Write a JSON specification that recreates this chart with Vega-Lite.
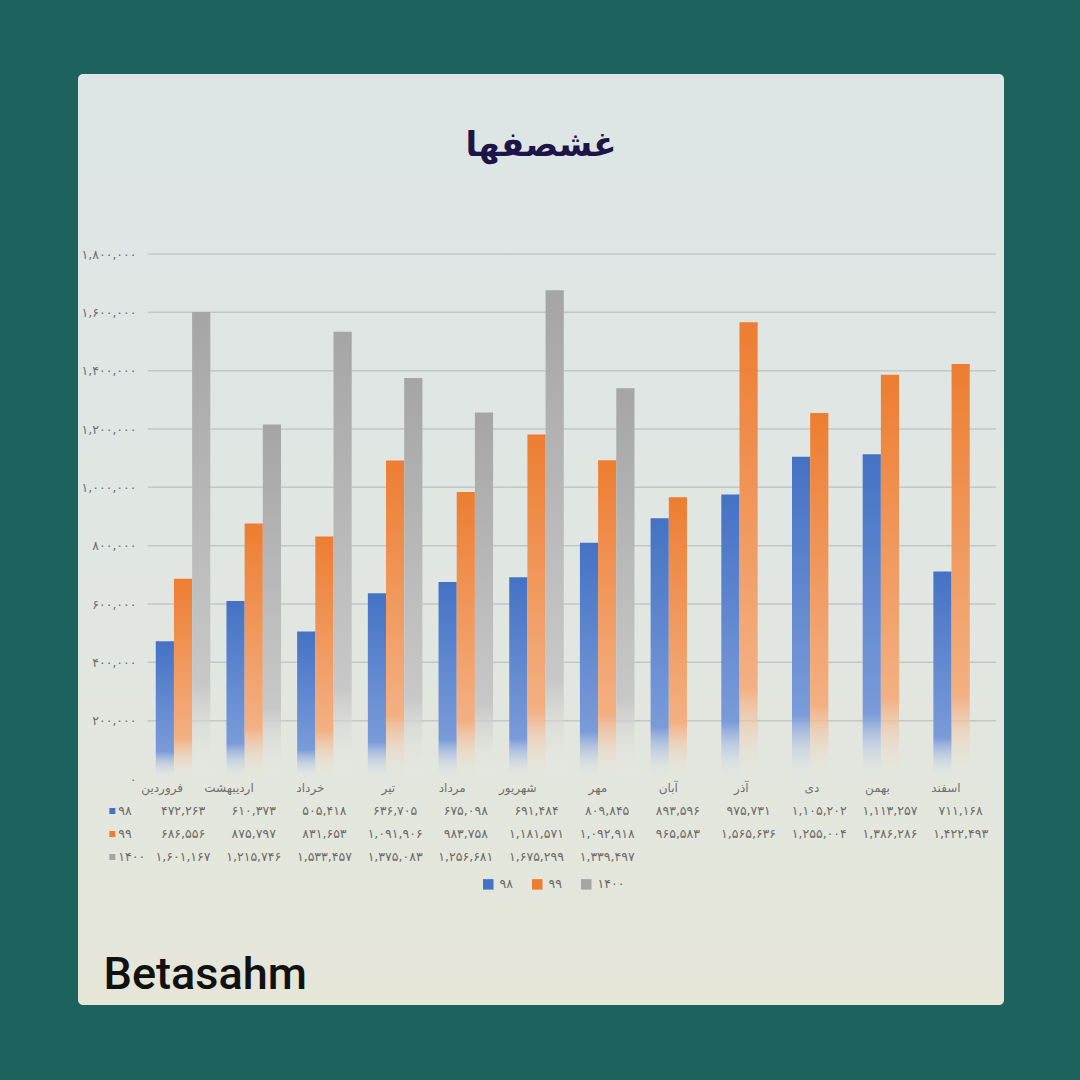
{
  "$schema": "https://vega.github.io/schema/vega-lite/v6.json",
  "background": "#1d625c",
  "padding": {"left": 78, "top": 74, "right": 76, "bottom": 75},
  "autosize": {"type": "none"},
  "width": 926,
  "height": 931,
  "title": {
    "text": "غشصفها",
    "font": "DejaVu Sans",
    "fontSize": 34,
    "fontWeight": "bold",
    "color": "#1d1449",
    "anchor": "middle",
    "offset": -89
  },
  "datasets": {
    "sales": [
      {"month": "فروردین", "series": "۹۸", "value": 472263, "label": "۴۷۲,۲۶۳"},
      {"month": "اردیبهشت", "series": "۹۸", "value": 610373, "label": "۶۱۰,۳۷۳"},
      {"month": "خرداد", "series": "۹۸", "value": 505418, "label": "۵۰۵,۴۱۸"},
      {"month": "تیر", "series": "۹۸", "value": 636705, "label": "۶۳۶,۷۰۵"},
      {"month": "مرداد", "series": "۹۸", "value": 675098, "label": "۶۷۵,۰۹۸"},
      {"month": "شهریور", "series": "۹۸", "value": 691484, "label": "۶۹۱,۴۸۴"},
      {"month": "مهر", "series": "۹۸", "value": 809845, "label": "۸۰۹,۸۴۵"},
      {"month": "آبان", "series": "۹۸", "value": 893596, "label": "۸۹۳,۵۹۶"},
      {"month": "آذر", "series": "۹۸", "value": 975731, "label": "۹۷۵,۷۳۱"},
      {"month": "دی", "series": "۹۸", "value": 1105202, "label": "۱,۱۰۵,۲۰۲"},
      {"month": "بهمن", "series": "۹۸", "value": 1113257, "label": "۱,۱۱۳,۲۵۷"},
      {"month": "اسفند", "series": "۹۸", "value": 711168, "label": "۷۱۱,۱۶۸"},
      {"month": "فروردین", "series": "۹۹", "value": 686556, "label": "۶۸۶,۵۵۶"},
      {"month": "اردیبهشت", "series": "۹۹", "value": 875797, "label": "۸۷۵,۷۹۷"},
      {"month": "خرداد", "series": "۹۹", "value": 831653, "label": "۸۳۱,۶۵۳"},
      {"month": "تیر", "series": "۹۹", "value": 1091906, "label": "۱,۰۹۱,۹۰۶"},
      {"month": "مرداد", "series": "۹۹", "value": 983758, "label": "۹۸۳,۷۵۸"},
      {"month": "شهریور", "series": "۹۹", "value": 1181571, "label": "۱,۱۸۱,۵۷۱"},
      {"month": "مهر", "series": "۹۹", "value": 1092918, "label": "۱,۰۹۲,۹۱۸"},
      {"month": "آبان", "series": "۹۹", "value": 965583, "label": "۹۶۵,۵۸۳"},
      {"month": "آذر", "series": "۹۹", "value": 1565636, "label": "۱,۵۶۵,۶۳۶"},
      {"month": "دی", "series": "۹۹", "value": 1255004, "label": "۱,۲۵۵,۰۰۴"},
      {"month": "بهمن", "series": "۹۹", "value": 1386286, "label": "۱,۳۸۶,۲۸۶"},
      {"month": "اسفند", "series": "۹۹", "value": 1422493, "label": "۱,۴۲۲,۴۹۳"},
      {"month": "فروردین", "series": "۱۴۰۰", "value": 1601167, "label": "۱,۶۰۱,۱۶۷"},
      {"month": "اردیبهشت", "series": "۱۴۰۰", "value": 1215746, "label": "۱,۲۱۵,۷۴۶"},
      {"month": "خرداد", "series": "۱۴۰۰", "value": 1533457, "label": "۱,۵۳۳,۴۵۷"},
      {"month": "تیر", "series": "۱۴۰۰", "value": 1375083, "label": "۱,۳۷۵,۰۸۳"},
      {"month": "مرداد", "series": "۱۴۰۰", "value": 1256681, "label": "۱,۲۵۶,۶۸۱"},
      {"month": "شهریور", "series": "۱۴۰۰", "value": 1675299, "label": "۱,۶۷۵,۲۹۹"},
      {"month": "مهر", "series": "۱۴۰۰", "value": 1339497, "label": "۱,۳۳۹,۴۹۷"}
    ],
    "grid": [
      {"tick": 200000}, {"tick": 400000}, {"tick": 600000}, {"tick": 800000},
      {"tick": 1000000}, {"tick": 1200000}, {"tick": 1400000}, {"tick": 1600000}, {"tick": 1800000}
    ],
    "series": [
      {"series": "۹۸"}, {"series": "۹۹"}, {"series": "۱۴۰۰"}
    ]
  },
  "layer": [
    {
      "layer": [
        {
          "data": {"name": "grid"},
          "mark": {"type": "rule", "color": "#c3c6c6", "strokeWidth": 1.5},
          "encoding": {
            "y": {"field": "tick", "type": "quantitative"},
            "x": {"datum": "فروردین", "type": "nominal", "bandPosition": 0},
            "x2": {"datum": "اسفند", "bandPosition": 1}
          }
        },
        {
          "data": {"name": "sales"},
          "transform": [{"filter": {"field": "series", "equal": "۹۸"}}],
          "mark": {
            "type": "bar",
            "fill": {"gradient": "linear", "x1": 0, "y1": 0, "x2": 0, "y2": 1,
              "stops": [
                {"offset": 0, "color": "#4472c4"},
                {"offset": 0.8, "color": "#7a9bd9"},
                {"offset": 1, "color": "rgba(225,232,238,0)"}
              ]}
          },
          "encoding": {
            "x": {
              "field": "month", "type": "nominal",
              "scale": {
                "domain": ["h", "فروردین", "اردیبهشت", "خرداد", "تیر", "مرداد", "شهریور", "مهر", "آبان", "آذر", "دی", "بهمن", "اسفند"],
                "range": [-1, 918], "paddingInner": 0, "paddingOuter": 0
              },
              "axis": {
                "orient": "bottom", "offset": -226, "domain": false, "ticks": false, "grid": false,
                "labelAngle": 0, "labelPadding": 8, "labelFontSize": 12, "labelColor": "#707070",
                "labelFont": "DejaVu Sans",
                "labelExpr": "datum.value == 'h' ? '' : datum.value",
                "title": "Betasahm", "titleFont": "Roboto", "titleFontSize": 45, "titleFontWeight": 500,
                "titleColor": "#111111", "titleX": 25, "titleY": 209, "titleAlign": "left",
                "titleBaseline": "alphabetic", "titleAnchor": "start"
              }
            },
            "xOffset": {"field": "series", "type": "nominal",
              "scale": {"domain": ["۹۸", "۹۹", "۱۴۰۰"], "paddingInner": 0, "paddingOuter": 0.444}},
            "y": {
              "field": "value", "type": "quantitative",
              "scale": {"domain": [0, 1800000], "range": [705, 180], "nice": false, "zero": true},
              "axis": {
                "orient": "left", "offset": -60, "domain": false, "ticks": false, "grid": false,
                "values": [0, 200000, 400000, 600000, 800000, 1000000, 1200000, 1400000, 1600000, 1800000],
                "format": ",d", "labelPadding": 2, "labelFontSize": 12.5, "labelColor": "#6e6e6e",
                "labelFont": "DejaVu Sans", "title": null,
                "labelExpr": "replace(replace(replace(replace(replace(replace(replace(replace(replace(replace(datum.label,regexp('0','g'),'۰'),regexp('1','g'),'۱'),regexp('2','g'),'۲'),regexp('3','g'),'۳'),regexp('4','g'),'۴'),regexp('5','g'),'۵'),regexp('6','g'),'۶'),regexp('7','g'),'۷'),regexp('8','g'),'۸'),regexp('9','g'),'۹')"
              }
            }
          }
        },
        {
          "data": {"name": "sales"},
          "transform": [{"filter": {"field": "series", "equal": "۹۹"}}],
          "mark": {
            "type": "bar",
            "fill": {"gradient": "linear", "x1": 0, "y1": 0, "x2": 0, "y2": 1,
              "stops": [
                {"offset": 0, "color": "#ed7d31"},
                {"offset": 0.8, "color": "#f3b083"},
                {"offset": 1, "color": "rgba(235,232,220,0)"}
              ]}
          },
          "encoding": {
            "x": {"field": "month", "type": "nominal"},
            "xOffset": {"field": "series", "type": "nominal", "scale": {"domain": ["۹۸", "۹۹", "۱۴۰۰"]}},
            "y": {"field": "value", "type": "quantitative"}
          }
        },
        {
          "data": {"name": "sales"},
          "transform": [{"filter": {"field": "series", "equal": "۱۴۰۰"}}],
          "mark": {
            "type": "bar",
            "fill": {"gradient": "linear", "x1": 0, "y1": 0, "x2": 0, "y2": 1,
              "stops": [
                {"offset": 0, "color": "#a5a5a5"},
                {"offset": 0.8, "color": "#c8c8c8"},
                {"offset": 1, "color": "rgba(235,235,230,0)"}
              ]}
          },
          "encoding": {
            "x": {"field": "month", "type": "nominal"},
            "xOffset": {"field": "series", "type": "nominal", "scale": {"domain": ["۹۸", "۹۹", "۱۴۰۰"]}},
            "y": {"field": "value", "type": "quantitative"}
          }
        }
      ]
    },
    {
      "layer": [
        {
          "data": {"name": "sales"},
          "mark": {"type": "text", "font": "DejaVu Sans", "fontSize": 12.5, "color": "#6a6a6a", "baseline": "middle"},
          "encoding": {
            "x": {"field": "month", "type": "nominal"},
            "y": {"field": "series", "type": "nominal",
              "scale": {"type": "point", "domain": ["۹۸", "۹۹", "۱۴۰۰"], "range": [737, 783], "padding": 0},
              "axis": null},
            "text": {"field": "label"}
          }
        },
        {
          "data": {"name": "series"},
          "mark": {"type": "square", "size": 36, "opacity": 1},
          "encoding": {
            "x": {"datum": "h", "type": "nominal"},
            "y": {"field": "series", "type": "nominal"},
            "color": {
              "field": "series", "type": "nominal",
              "scale": {"domain": ["۹۸", "۹۹", "۱۴۰۰"], "range": ["#4472c4", "#ed7d31", "#a5a5a5"]},
              "legend": {
                "orient": "none", "direction": "horizontal", "legendX": 404, "legendY": 804,
                "title": null, "symbolType": "square", "symbolSize": 110, "symbolStrokeWidth": 0,
                "symbolOpacity": 1, "labelFont": "DejaVu Sans", "labelFontSize": 12.5,
                "labelColor": "#666666", "columnPadding": 18, "labelOffset": 5
              }
            }
          }
        },
        {
          "data": {"name": "series"},
          "mark": {"type": "text", "font": "DejaVu Sans", "fontSize": 12.5, "color": "#6a6a6a", "align": "left", "dx": 6, "baseline": "middle"},
          "encoding": {
            "x": {"datum": "h", "type": "nominal"},
            "y": {"field": "series", "type": "nominal"},
            "text": {"field": "series"}
          }
        }
      ]
    }
  ],
  "resolve": {"scale": {"y": "independent"}},
  "config": {
    "view": {
      "fill": {"gradient": "linear", "x1": 0, "y1": 0, "x2": 0, "y2": 1,
        "stops": [
          {"offset": 0, "color": "#dde5e5"},
          {"offset": 0.55, "color": "#e1e6e2"},
          {"offset": 1, "color": "#e5e6d8"}
        ]},
      "stroke": null,
      "cornerRadius": 5
    },
    "font": "DejaVu Sans"
  }
}
